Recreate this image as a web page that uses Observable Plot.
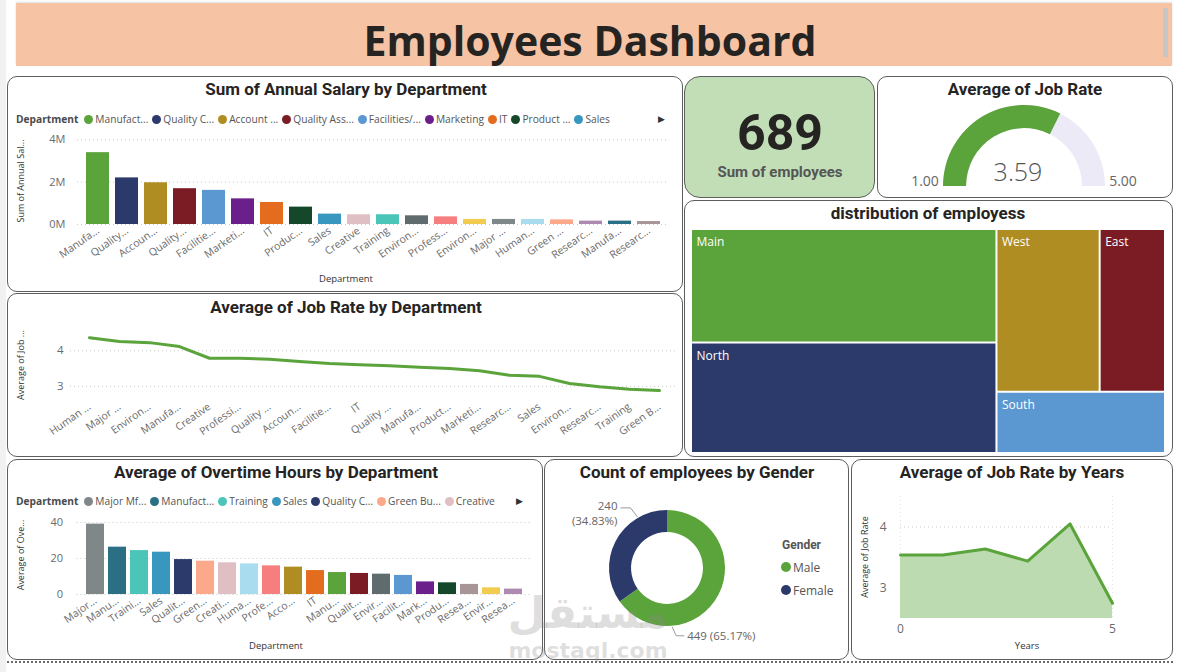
<!DOCTYPE html>
<html><head><meta charset="utf-8">
<script src="https://cdn.jsdelivr.net/npm/d3@7"></script>
<script src="https://cdn.jsdelivr.net/npm/@observablehq/plot@0.6"></script>
<style>
body{margin:0;background:#fff;}
#root{position:relative;width:1180px;height:672px;overflow:hidden;font-family:"Open Sans",sans-serif;background:#fff;}
.abs{position:absolute;}
.panel{position:absolute;box-sizing:border-box;border:1px solid #5e5e5e;border-radius:10px;background:#fff;}
.ctext{position:absolute;white-space:nowrap;transform:translate(-50%,-50%);}
.title{font-family:Roboto,sans-serif;font-weight:700;font-size:17px;color:#252423;}
.ytitle{position:absolute;font-family:"Open Sans",sans-serif;font-size:9px;color:#333;white-space:nowrap;transform:translate(-50%,-50%) rotate(-90deg);}
.xtitle{font-family:"Open Sans",sans-serif;font-size:9.5px;color:#333;}
.legend{position:absolute;display:flex;align-items:center;font-size:10.2px;color:#555;white-space:nowrap;height:16px;}
.legend b{color:#4a4a4a;margin-right:6px;font-weight:700;}
.legend .it{display:flex;align-items:center;margin-right:4px;}
.legend .dot{width:9px;height:9px;border-radius:50%;margin-right:2px;}
.plot{position:absolute;}
</style></head>
<body><div id="root"></div>
<script>
// ---------------- DATA ----------------
const salaryDepts = ["Manufacturing","Quality Control","Account Management","Quality Assurance","Facilities/Engineering","Marketing","IT","Product Development","Sales","Creative","Training","Environmental Health/Safety","Professional Training Group","Environmental Compliance","Major Mfg Projects","Human Resources","Green Building","Research/Development","Manufacturing Admin","Research Center"];
const salaryValues = [3390000,2200000,1970000,1690000,1610000,1210000,1040000,820000,490000,460000,460000,410000,360000,240000,240000,240000,220000,160000,160000,140000];
const salaryTickLabels = ["Manufa...","Quality...","Accoun...","Quality...","Facilitie...","Marketi...","IT","Produc...","Sales","Creative","Training","Environ...","Profess...","Environ...","Major ...","Human...","Green ...","Researc...","Manufa...","Researc..."];
const salaryLegendLabels = ["Manufact...","Quality C...","Account ...","Quality Ass...","Facilities/...","Marketing","IT","Product ...","Sales"];

const rateDepts = ["Human Resources","Major Mfg Projects","Environmental Health/Safety","Manufacturing Admin","Creative","Professional Training Group","Quality Control","Account Management","Facilities/Engineering","IT","Quality Assurance","Manufacturing","Product Development","Marketing","Research Center","Sales","Environmental Compliance","Research/Development","Training","Green Building"];
const rateValues = [4.37,4.26,4.23,4.12,3.79,3.79,3.76,3.70,3.64,3.61,3.58,3.54,3.50,3.44,3.31,3.28,3.08,2.99,2.92,2.88];
const rateTickLabels = ["Human ...","Major ...","Environ...","Manufa...","Creative","Professi...","Quality ...","Accoun...","Facilitie...","IT","Quality ...","Manufa...","Product...","Marketi...","Researc...","Sales","Environ...","Researc...","Training","Green B..."];

const overtimeDepts = ["Major Mfg Projects","Manufacturing Admin","Training","Sales","Quality Control","Green Building","Creative","Human Resources","Professional Training Group","Account Management","IT","Manufacturing","Quality Assurance","Environmental Health/Safety","Facilities/Engineering","Marketing","Product Development","Research Center","Environmental Compliance","Research/Development"];
const overtimeValues = [39.1,26.3,24.4,23.5,19.4,18.5,17.6,17.0,15.9,15.2,13.3,12.2,11.7,11.3,10.6,7.0,6.5,5.6,3.7,3.0];
const overtimeTickLabels = ["Major...","Manu...","Traini...","Sales","Qualit...","Green...","Creati...","Huma...","Profe...","Acco...","IT","Manu...","Qualit...","Envir...","Facilit...","Mark...","Produ...","Resea...","Envir...","Resea..."];
const overtimeLegendLabels = ["Major Mf...","Manufact...","Training","Sales","Quality C...","Green Bu...","Creative"];

const deptColor = {
  "Manufacturing":"#5BA33B","Quality Control":"#2C3A6B","Account Management":"#B08D22","Quality Assurance":"#7B1C25",
  "Facilities/Engineering":"#5B97D1","Marketing":"#6B1F8A","IT":"#E36C1E","Product Development":"#15482A",
  "Sales":"#3797BE","Creative":"#E0BFC4","Training":"#4CC5B9","Environmental Health/Safety":"#5F6B6D",
  "Professional Training Group":"#F67E7E","Environmental Compliance":"#F1CC50","Major Mfg Projects":"#7F8789",
  "Human Resources":"#A8DCEE","Green Building":"#FBA98A","Research/Development":"#AE8AB0",
  "Manufacturing Admin":"#2A6F83","Research Center":"#A89597"
};

const genders = ["Male","Female"];
const genderCounts = [449,240];
const genderColors = ["#5BA33B","#2C3A6B"];

const years = [0,1,2,3,4,5];
const yearRates = [3.54,3.54,3.64,3.44,4.05,2.75];

const regions = ["Main","North","West","East","South"];
const regionCounts = [225,219,109,69,67];
const regionColors = ["#5BA33B","#2C3A6B","#B08D22","#7B1C25","#5B97D1"];

const avgJobRate = 3.59;
const gaugeMin = 1, gaugeMax = 5;

// ---------------- HELPERS ----------------
const root = document.getElementById("root");
function el(tag, cls, css, html){const e=document.createElement(tag); if(cls) e.className=cls; if(css) Object.assign(e.style,css); if(html!==undefined) e.innerHTML=html; root.appendChild(e); return e;}
function panel(x,y,w,h,extra){return el("div","panel",Object.assign({left:x+"px",top:y+"px",width:w+"px",height:h+"px"},extra||{}));}
function ctext(cls,x,y,txt,css){return el("div","ctext "+cls,Object.assign({left:x+"px",top:y+"px"},css||{}),txt);}
function ytitle(x,y,txt){return el("div","ytitle",{left:x+"px",top:y+"px"},txt);}
function place(node,x,y){const d=el("div","plot",{left:x+"px",top:y+"px"}); d.appendChild(node); return d;}
function legend(x,y,title,labels,colors){
  const d=el("div","legend",{left:x+"px",top:(y-8)+"px"});
  d.innerHTML="<b>"+title+"</b>"+labels.map((l,i)=>`<span class="it"><span class="dot" style="background:${colors[i]}"></span>${l}</span>`).join("");
  return d;
}
function arrow(x,y){return ctext("",x,y,"&#9654;",{fontSize:"9px",color:"#333"});}
const axisStyle = {fontFamily:"Open Sans, sans-serif",fontSize:"10.5px",color:"#6b6b6b",background:"none",overflow:"visible"};
const dotted = {stroke:"#c9c9c9",strokeDasharray:"1,3",strokeWidth:1};
const intFmt = d3.format("d");

// ---------------- FRAME ----------------
el("div","",{position:"absolute",left:"0px",top:"0px",width:"6px",height:"672px",background:"#f1f1f1"});
el("div","",{position:"absolute",left:"16px",top:"3px",width:"1156px",height:"63px",background:"#F6C4A4",boxShadow:"0 -1px 2px rgba(0,0,0,0.12)"});
el("div","",{position:"absolute",left:"1163px",top:"8px",width:"5px",height:"49px",background:"#c6c6c6"});
ctext("",590,40,"Employees Dashboard",{fontFamily:"'Open Sans',sans-serif",fontWeight:"700",fontSize:"41px",color:"#252423"});

panel(7,76,676,216);
panel(684,76,191,122,{background:"#C1DEB6",borderRadius:"16px"});
panel(877,76,296,122);
panel(7,293,676,164);
panel(684,200,489,257);
panel(7,459,536,201);
panel(544,459,305,201);
panel(851,459,322,201);
el("div","",{position:"absolute",left:"7px",top:"661px",width:"1166px",height:"0px",borderTop:"2px dotted #6a6a6a"});

// ---------------- SALARY BARS ----------------
ctext("title",346,89,"Sum of Annual Salary by Department");
legend(16,119,"Department",salaryLegendLabels,salaryDepts.slice(0,9).map(d=>deptColor[d]));
arrow(661,118);
ytitle(20,181,"Sum of Annual Sal...");
ctext("xtitle",346,278,"Department");
const salaryData = salaryDepts.map((d,i)=>({dept:d,value:salaryValues[i]}));
const salaryLabelMap = new Map(salaryDepts.map((d,i)=>[d,salaryTickLabels[i]]));
place(Plot.plot({
  width:676,height:162,marginLeft:70,marginRight:14,marginTop:7,marginBottom:66,
  style:axisStyle,
  x:{domain:salaryDepts,padding:0.2},
  y:{domain:[0,4.2e6]},
  color:{type:"identity"},
  marks:[
    Plot.ruleY([0,2e6,4e6],dotted),
    Plot.barY(salaryData,{x:"dept",y:"value",fill:d=>deptColor[d.dept]}),
    Plot.axisX({tickRotate:-35,tickSize:0,tickPadding:5,tickFormat:d=>salaryLabelMap.get(d),label:null}),
    Plot.axisY({ticks:[0,2e6,4e6],tickSize:0,tickPadding:12,tickFormat:d=>(d/1e6)+"M",label:null,fontSize:11})
  ]
}),7,128);

// ---------------- JOB RATE LINE ----------------
ctext("title",346,307,"Average of Job Rate by Department");
ytitle(20,365,"Average of Job ...");
const rateData = rateDepts.map((d,i)=>({dept:d,value:rateValues[i]}));
const rateLabelMap = new Map(rateDepts.map((d,i)=>[d,rateTickLabels[i]]));
place(Plot.plot({
  width:676,height:135,marginLeft:63,marginRight:6,marginTop:9,marginBottom:55,
  style:axisStyle,
  x:{type:"point",domain:rateDepts,padding:0.5},
  y:{domain:[2.6,4.6]},
  marks:[
    Plot.ruleY([3,4],dotted),
    Plot.lineY(rateData,{x:"dept",y:"value",stroke:"#5BA33B",strokeWidth:3}),
    Plot.axisX({tickRotate:-35,tickSize:0,tickPadding:5,tickFormat:d=>rateLabelMap.get(d),label:null}),
    Plot.axisY({ticks:[3,4],tickSize:0,tickPadding:7,tickFormat:intFmt,label:null,fontSize:11.5})
  ]
}),7,320);

// ---------------- OVERTIME BARS ----------------
ctext("title",276,472,"Average of Overtime Hours by Department");
legend(16,501,"Department",overtimeLegendLabels,overtimeDepts.slice(0,7).map(d=>deptColor[d]));
arrow(519,500);
ytitle(20,555,"Average of Ove...");
ctext("xtitle",276,645,"Department");
const otData = overtimeDepts.map((d,i)=>({dept:d,value:overtimeValues[i]}));
const otLabelMap = new Map(overtimeDepts.map((d,i)=>[d,overtimeTickLabels[i]]));
place(Plot.plot({
  width:536,height:148,marginLeft:69.5,marginRight:12.5,marginTop:6.4,marginBottom:66,
  style:axisStyle,
  x:{domain:overtimeDepts,padding:0.2},
  y:{domain:[0,42]},
  color:{type:"identity"},
  marks:[
    Plot.ruleY([0,20,40],dotted),
    Plot.barY(otData,{x:"dept",y:"value",fill:d=>deptColor[d.dept]}),
    Plot.axisX({tickRotate:-35,tickSize:0,tickPadding:5,tickFormat:d=>otLabelMap.get(d),label:null}),
    Plot.axisY({ticks:[0,20,40],tickSize:0,tickPadding:14,label:null,fontSize:11})
  ]
}),7,512);

// ---------------- DONUT ----------------
ctext("title",697,472,"Count of employees by Gender");
const genderTotal = d3.sum(genderCounts);
function donutMark(index, scales, values, dims){
  const fx0=dims.marginLeft, fx1=dims.width-dims.marginRight, fy0=dims.marginTop, fy1=dims.height-dims.marginBottom;
  const cx=(fx0+fx1)/2, cy=(fy0+fy1)/2, R=(fx1-fx0)/2, r=R*0.62;
  const pie=d3.pie().sort(null).value((d,i)=>genderCounts[i])(genders);
  const arc=d3.arc().innerRadius(r).outerRadius(R);
  const g=d3.create("svg:g");
  g.selectAll("path").data(pie).join("path").attr("transform",`translate(${cx},${cy})`).attr("d",arc).attr("fill",(d,i)=>genderColors[i]);
  const pct=d3.format(".2%");
  const anchors=[{a:175,dx:4,dy:9,len:8,side:1},{a:330,dx:-7,dy:-9,len:10,side:-1}];
  pie.forEach((p,i)=>{
    const A=anchors[i], rad=A.a*Math.PI/180;
    const px=cx+(R+1)*Math.sin(rad), py=cy-(R+1)*Math.cos(rad);
    const ex=px+A.dx, ey=py+A.dy, tx=ex+A.side*A.len;
    g.append("path").attr("d",`M${px},${py}L${ex},${ey}L${tx},${ey}`).attr("fill","none").attr("stroke","#9a9a9a");
    const t=g.append("text").attr("fill","#666").attr("font-size",11.5).attr("font-family","Open Sans, sans-serif")
      .attr("text-anchor",A.side>0?"start":"end");
    if(A.side>0){ t.attr("x",tx+3).attr("y",ey+4).text(`${genderCounts[i]} (${pct(genderCounts[i]/genderTotal)})`); }
    else {
      t.append("tspan").attr("x",tx-3).attr("y",ey+2).text(String(genderCounts[i]));
      t.append("tspan").attr("x",tx-3).attr("y",ey+17).text(`(${pct(genderCounts[i]/genderTotal)})`);
    }
  });
  return g.node();
}
place(Plot.plot({width:305,height:170,marginLeft:65,marginRight:124,marginTop:25,marginBottom:29,style:axisStyle,marks:[donutMark]}),544,485);
el("div","",{position:"absolute",left:"782px",top:"538px",fontFamily:"Roboto,sans-serif",fontWeight:"700",fontSize:"12px",color:"#555"},"Gender");
genders.forEach((g,i)=>{
  el("div","legend",{left:"781px",top:(559+i*23)+"px",fontSize:"12px"},`<span class="it"><span class="dot" style="background:${genderColors[i]};width:10px;height:10px"></span>${g}</span>`);
});

// ---------------- YEARS AREA ----------------
ctext("title",1012,472,"Average of Job Rate by Years");
ytitle(864,557,"Average of Job Rate");
ctext("xtitle",1027,645,"Years");
const yearData = years.map((y,i)=>({year:y,rate:yearRates[i]}));
const yMin=2.5;
place(Plot.plot({
  width:322,height:175,marginLeft:49,marginRight:61,marginTop:11,marginBottom:42,
  style:axisStyle,
  x:{domain:[0,5]},
  y:{domain:[yMin,4.5]},
  marks:[
    Plot.ruleY([3,4],dotted),
    Plot.ruleX([0,5],{stroke:"#e2e2e2",strokeDasharray:"1,3"}),
    Plot.areaY(yearData,{x:"year",y1:()=>yMin,y2:"rate",fill:"#BCDBB0"}),
    Plot.lineY(yearData,{x:"year",y:"rate",stroke:"#5BA33B",strokeWidth:3}),
    Plot.axisX({ticks:[0,5],tickSize:0,tickPadding:6,tickFormat:intFmt,label:null,fontSize:12}),
    Plot.axisY({ticks:[3,4],tickSize:0,tickPadding:14,tickFormat:intFmt,label:null,fontSize:12})
  ]
}),851,485);

// ---------------- KPI ----------------
ctext("",780,133,String(genderTotal),{fontFamily:"Roboto,sans-serif",fontWeight:"700",fontSize:"50px",color:"#252423"});
ctext("",780,172,"Sum of employees",{fontFamily:"Roboto,sans-serif",fontWeight:"700",fontSize:"15px",color:"#555"});

// ---------------- GAUGE ----------------
ctext("title",1025,89,"Average of Job Rate");
function gaugeMark(index, scales, values, dims){
  const fx0=dims.marginLeft, fx1=dims.width-dims.marginRight;
  const cx=(fx0+fx1)/2, cy=dims.height-dims.marginBottom, R=(fx1-fx0)/2, r=R*0.715;
  const ang=d3.scaleLinear([gaugeMin,gaugeMax],[-Math.PI/2,Math.PI/2]);
  const arc=d3.arc().innerRadius(r).outerRadius(R);
  const g=d3.create("svg:g");
  g.append("path").attr("transform",`translate(${cx},${cy})`).attr("d",arc({startAngle:ang(gaugeMin),endAngle:ang(gaugeMax)})).attr("fill","#ECEAF6");
  g.append("path").attr("transform",`translate(${cx},${cy})`).attr("d",arc({startAngle:ang(gaugeMin),endAngle:ang(avgJobRate)})).attr("fill","#5BA33B");
  const f=d3.format(".2f");
  const lab=(x,t)=>g.append("text").attr("x",x).attr("y",cy).attr("text-anchor","middle").attr("fill","#666").attr("font-size",14).attr("font-family","Open Sans, sans-serif").text(t);
  lab(cx-R-18,f(gaugeMin));
  lab(cx+R+18,f(gaugeMax));
  g.append("text").attr("x",cx-6).attr("y",cy-5).attr("text-anchor","middle").attr("fill","#555").attr("font-size",25).attr("font-weight",300).attr("font-family","Open Sans, sans-serif").text(f(avgJobRate));
  return g.node();
}
place(Plot.plot({width:296,height:98,marginLeft:66,marginRight:68,marginTop:5,marginBottom:12,style:axisStyle,marks:[gaugeMark]}),877,100);

// ---------------- TREEMAP ----------------
ctext("title",928,213,"distribution of employess");
const leafs = regions.map((r,i)=>({name:r,value:regionCounts[i],color:regionColors[i]}));
const tree = {children:[{children:[leafs[0],leafs[1]]},{children:[{children:[leafs[2],leafs[3]]},leafs[4]]}]};
const TW=474, TH=224;
const tm = d3.treemap().tile(d3.treemapSliceDice).size([TW,TH])(d3.hierarchy(tree).sum(d=>d.value||0));
const tleaves = tm.leaves();
place(Plot.plot({
  width:489,height:235,marginLeft:7,marginRight:8,marginTop:7,marginBottom:4,
  style:Object.assign({},axisStyle,{color:"#fff"}),
  x:{domain:[0,TW],axis:null},
  y:{domain:[0,TH],reverse:true,axis:null},
  color:{type:"identity"},
  marks:[
    Plot.rect(tleaves,{x1:d=>d.x0,x2:d=>d.x1,y1:d=>d.y0,y2:d=>d.y1,fill:d=>d.data.color,inset:1}),
    Plot.text(tleaves,{x:d=>d.x0,y:d=>d.y0,text:d=>d.data.name,dx:5,dy:13,textAnchor:"start",fill:"#fff",fontSize:12,fontWeight:500})
  ]
}),684,222);

// ---------------- WATERMARK ----------------
ctext("",588,612,"مستقل",{fontFamily:"'DejaVu Sans',sans-serif",fontWeight:"700",fontSize:"44px",color:"rgba(140,140,140,0.28)"});
ctext("",588,650,"mostaql.com",{fontFamily:"'DejaVu Sans',sans-serif",fontWeight:"700",fontSize:"22px",color:"rgba(140,140,140,0.28)"});
</script>
</body></html>
